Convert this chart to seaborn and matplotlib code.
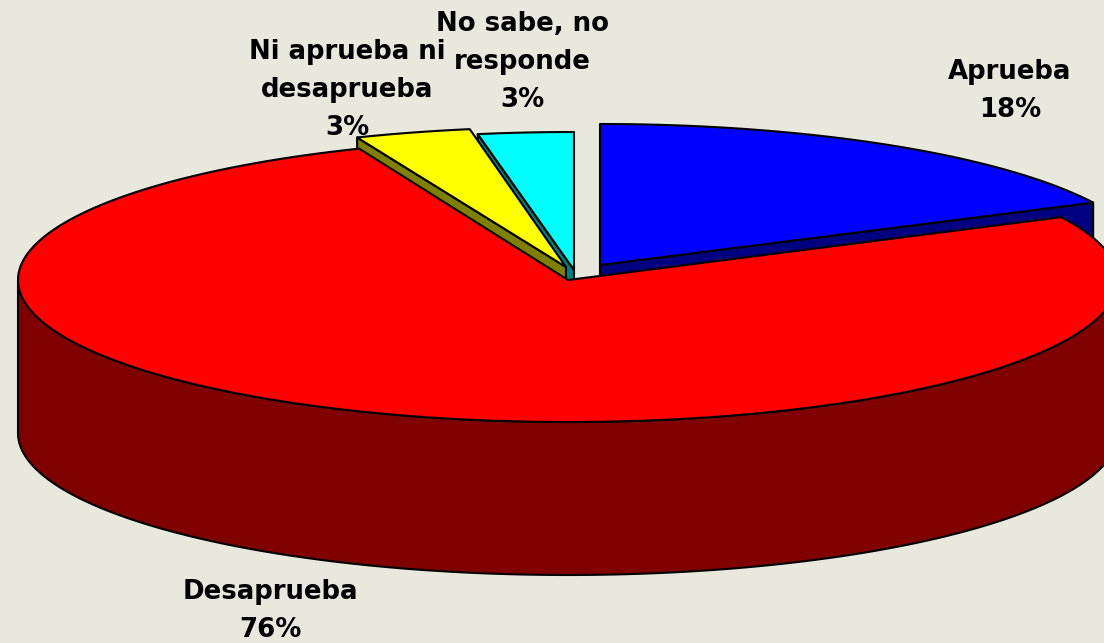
import numpy as np
import matplotlib
matplotlib.use("Agg")
import matplotlib.pyplot as plt
import seaborn as sns

categories = ["Aprueba", "Desaprueba", "Ni aprueba ni\ndesaprueba", "No sabe, no\nresponde"]
values = [17.7, 76.1, 3.4, 2.8]
top_colors = ["#0000FF", "#FF0000", "#FFFF00", "#00FFFF"]
side_colors = ["#000080", "#800000", "#808000", "#008080"]
centers = [(600, 265), (568, 280), (566, 267), (574, 270)]
radii_y = [141, 142, 140, 138]
label_xy = [(1010, 91), (270, 611), (347, 90), (522, 62)]
BG = "#E8E8DC"
RX, DEPTH = 550, 153

sns.set_theme(style="white")
plt.rcParams["font.family"] = ["DejaVu Sans"]
fig, ax = plt.subplots(figsize=(11.04, 6.43), dpi=100, facecolor=BG)
ax.set_position([0, 0, 1, 1])
ax.set_facecolor(BG)
ax.set_xlim(0, 1104)
ax.set_ylim(643, 0)
ax.axis("off")
sns.despine(ax=ax, left=True, bottom=True)

edges = np.cumsum([0] + values) / sum(values) * 2 * np.pi
kw = dict(edgecolor="black", linewidth=1.5, joinstyle="round")
order = [3, 2, 0, 1]  # back slices first, the large front slice last

for z, i in enumerate(order):
    a0, a1 = edges[i], edges[i + 1]
    c, ry = centers[i], radii_y[i]

    def rim(a):
        return c[0] + RX * np.sin(a), c[1] - ry * np.cos(a)

    t = np.linspace(a0, a1, 400)
    x, y = rim(t)
    zo = 2 + 2 * z
    # cut walls that face the viewer
    for a, visible in ((a0, np.sin(a0) < 0), (a1, np.sin(a1) > 0)):
        if visible:
            ex, ey = rim(a)
            ax.fill([c[0], ex, ex, c[0]], [c[1], ey, ey + DEPTH, c[1] + DEPTH],
                    facecolor=side_colors[i], zorder=zo, **kw)
    # outer wall: only the part that faces the viewer
    front = np.cos(t) <= 0
    if front.any():
        fx, fy = x[front], y[front]
        ax.fill(np.r_[fx, fx[::-1]], np.r_[fy, fy[::-1] + DEPTH],
                facecolor=side_colors[i], zorder=zo, **kw)
    ax.fill(np.r_[c[0], x], np.r_[c[1], y], facecolor=top_colors[i], zorder=zo + 1, **kw)

for name, v, (lx, ly) in zip(categories, values, label_xy):
    ax.text(lx, ly, f"{name}\n{v:.0f}%", ha="center", va="center", fontsize=18.7,
            fontweight="bold", color="black", linespacing=1.62, zorder=30)

fig.savefig("out.png", dpi=100, facecolor=BG)
